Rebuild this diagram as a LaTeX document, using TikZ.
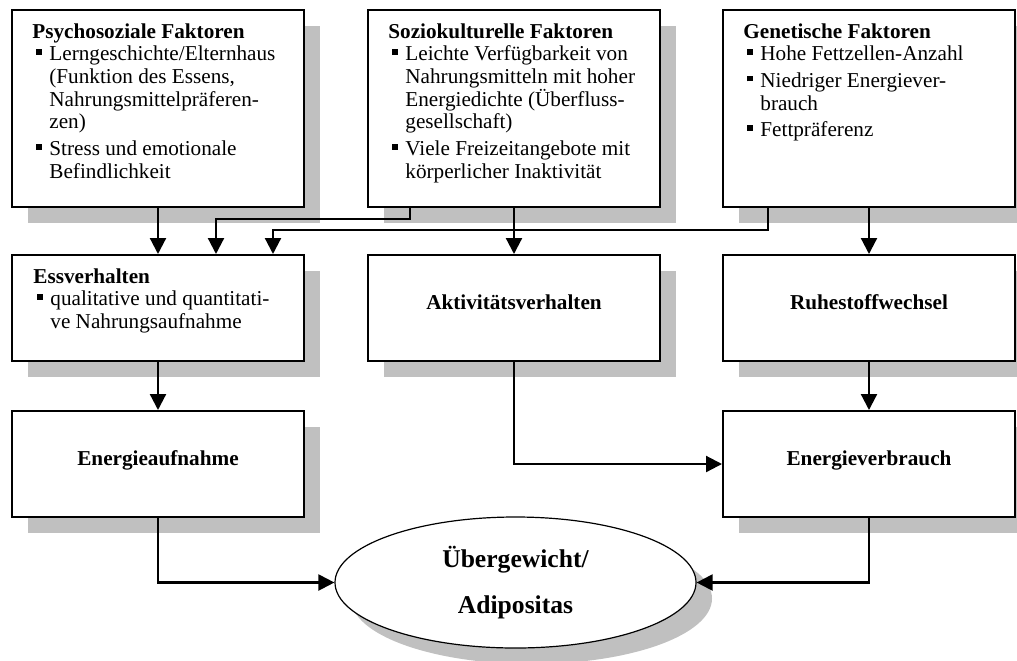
\documentclass[tikz,border=0pt]{standalone}
\usepackage{fontspec}
\setmainfont{Liberation Serif}
\usetikzlibrary{arrows.meta,shapes.geometric,shadows}

\definecolor{shadowgray}{RGB}{192,192,192}

% small square bullet and list items with hanging indent
\newcommand\sqbullet{\makebox[8.5pt][l]{\hspace{2pt}\raisebox{3pt}{\rule{2.8pt}{2.8pt}}}}
\newcommand\firstitem{\par\noindent\hangindent=8.5pt\hangafter=1\sqbullet}
\newcommand\nextitem{\par\vspace{2pt}\noindent\hangindent=8.5pt\hangafter=1\sqbullet}
\newcommand\blurb[1]{\parbox[t]{150pt}{\fontsize{10.6pt}{11.35pt}\selectfont
  \raggedright\setlength{\parindent}{0pt}\setlength{\parskip}{0pt}#1}}

\begin{document}
\begin{tikzpicture}[x=0.5pt,y=-0.5pt,
  box/.style={draw, line width=1pt, fill=white, inner sep=0pt,
    minimum width=146pt,
    drop shadow={shadow xshift=8pt, shadow yshift=-8pt, fill=shadowgray, opacity=1},
    font=\fontsize{10.6pt}{11.35pt}\selectfont\bfseries,
    text height=5.25pt, text depth=3.75pt},
  tallbox/.style={minimum height=98.5pt},
  shortbox/.style={minimum height=53pt},
  conn/.style={line width=1.1pt, -{Triangle[length=8pt,width=8pt]}},
  listtext/.style={inner sep=0pt, anchor=base west}]

\clip (0,0) rectangle (1017,660);

% factor boxes
\node[box,tallbox] (psy) at (158,108.5) {};
\node[box,tallbox] (soz) at (514,108.5) {};
\node[box,tallbox] (gen) at (869,108.5) {};

% behaviour boxes
\node[box,shortbox] (ess)  at (158,308) {};
\node[box,shortbox] (akt)  at (514,308) {Aktivitätsverhalten};
\node[box,shortbox] (ruhe) at (869,308) {Ruhestoffwechsel};

% energy boxes
\node[box,shortbox] (ea) at (158,464) {Energieaufnahme};
\node[box,shortbox] (ev) at (869,464) {Energieverbrauch};

% outcome
\node[ellipse, draw, line width=0.6pt, fill=white, inner sep=0pt,
  minimum width=180.5pt, minimum height=65.5pt,
  drop shadow={shadow xshift=8pt, shadow yshift=-8pt, fill=shadowgray, opacity=1},
  align=center, font=\fontsize{12.8pt}{23pt}\selectfont\bfseries]
  (ob) at (515.5,582.5) {Übergewicht/\\Adipositas};

% box texts
\node[listtext] (psytxt) at ([xshift=10.5pt,yshift=-14.5pt]psy.north west) {\blurb{%
  \textbf{Psychosoziale Faktoren}
  \firstitem Lerngeschichte/Elternhaus\newline (Funktion des Essens,\newline Nahrungsmittelpräferen-\newline zen)
  \nextitem Stress und emotionale\newline Befindlichkeit}};

\node[listtext] (soztxt) at ([xshift=10.5pt,yshift=-14.5pt]soz.north west) {\blurb{%
  \textbf{Soziokulturelle Faktoren}
  \firstitem Leichte Verfügbarkeit von\newline Nahrungsmitteln mit hoher\newline Energiedichte (Überfluss-\newline gesellschaft)
  \nextitem Viele Freizeitangebote mit\newline körperlicher Inaktivität}};

\node[listtext] (gentxt) at ([xshift=10.5pt,yshift=-14.5pt]gen.north west) {\blurb{%
  \textbf{Genetische Faktoren}
  \firstitem Hohe Fettzellen-Anzahl
  \nextitem Niedriger Energiever-\newline brauch
  \nextitem Fettpräferenz}};

\node[listtext] (esstxt) at ([xshift=11pt,yshift=-14.5pt]ess.north west) {\blurb{%
  \textbf{Essverhalten}
  \firstitem qualitative und quantitati-\newline ve Nahrungsaufnahme}};

% connectors
\draw[conn] (psy.south) -- (ess.north);
\draw[conn] ([xshift=-52pt]soz.south) -- ++(0,11) -| ([xshift=29pt]ess.north);
\draw[conn] ([xshift=-50.5pt]gen.south) -- ++(0,22) -| ([xshift=57.5pt]ess.north);
\draw[conn] (soz.south) -- (akt.north);
\draw[conn] (gen.south) -- (ruhe.north);
\draw[conn] (ess.south) -- (ea.north);
\draw[conn] (akt.south) |- (ev.west);
\draw[conn] (ruhe.south) -- (ev.north);
\draw[conn] (ea.south) |- (ob.west);
\draw[conn] (ev.south) |- (ob.east);
\end{tikzpicture}
\end{document}
